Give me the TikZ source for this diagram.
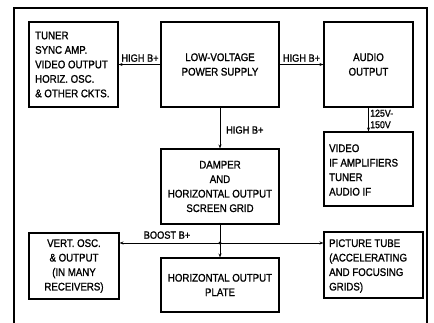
\documentclass[tikz,border=0pt]{standalone}
\usepackage{fontspec}
\setmainfont[FakeStretch=0.88,FakeBold=1.2]{Liberation Sans}
\usetikzlibrary{arrows.meta}
\begin{document}
\begin{tikzpicture}[x=1pt,y=-1pt,
  blk/.style={draw,line width=1.1pt,inner sep=0pt,font=\fontsize{11}{14.5}\selectfont},
  lbl/.style={font=\fontsize{10.5}{11}\selectfont,inner sep=0pt},
  conn/.style={line width=0.9pt},
  arr/.style={conn,-{Stealth[length=4pt,width=3pt]}}]
\useasboundingbox (0,0) rectangle (434,323);
\draw[line width=1.8pt] (14,340) -- (14,8) -- (427,8) -- (427,340);
\node[blk,minimum width=89pt,minimum height=85pt] (b1) at (73.5,64.5) {};
\node[font=\fontsize{11}{14.5}\selectfont,align=left,anchor=west,inner sep=0pt] (t1) at (35,64.5) {TUNER\\SYNC AMP.\\VIDEO OUTPUT\\HORIZ. OSC.\\\& OTHER CKTS.};
\node[blk,minimum width=118pt,minimum height=85pt,align=center] (b2) at (220,64.5) {LOW-VOLTAGE\\POWER SUPPLY};
\node[blk,minimum width=89pt,minimum height=85pt,align=center] (b3) at (368.5,64.5) {AUDIO\\OUTPUT};
\node[blk,minimum width=89pt,minimum height=74pt] (b4) at (368.5,169) {};
\node[font=\fontsize{11}{14.5}\selectfont,align=left,anchor=west,inner sep=0pt] (t4) at (329,170) {VIDEO\\IF AMPLIFIERS\\TUNER\\AUDIO IF};
\node[blk,minimum width=118pt,minimum height=75pt,align=center] (b5) at (220,186.5) {DAMPER\\AND\\HORIZONTAL OUTPUT\\SCREEN GRID};
\node[blk,minimum width=118pt,minimum height=54pt,align=center] (b6) at (220,285) {HORIZONTAL OUTPUT\\PLATE};
\node[blk,minimum width=90pt,minimum height=66pt,align=center] (b7) at (74,266) {VERT. OSC.\\\& OUTPUT\\(IN MANY\\RECEIVERS)};
\node[blk,minimum width=99pt,minimum height=66pt] (b8) at (373.5,265) {};
\node[font=\fontsize{11}{14.5}\selectfont,align=left,anchor=west,inner sep=0pt] (t8) at (329,266) {PICTURE TUBE\\(ACCELERATING\\AND FOCUSING\\GRIDS)};
\coordinate (j) at (220,243);
\draw[arr] (b2.west) -- (b1.east);
\draw[arr] (b2.east) -- (b3.west);
\draw[arr] (b2.south) -- (b5.north);
\draw[arr] (b3.south) -- (b4.north);
\draw[conn] (b5.south) -- (j);
\draw[arr] (j) -- (b6.north);
\draw[arr] (j) -- (j -| b7.east);
\draw[arr] (j) -- (j -| b8.west);
\fill (j) circle (1.6pt);
\node[lbl,anchor=south] (l1) at (140,62) {HIGH B+};
\node[lbl,anchor=south] (l2) at (301.5,62) {HIGH B+};
\node[lbl,anchor=west] (l3) at (226,130) {HIGH B+};
\node[lbl,anchor=west,align=left,font=\fontsize{10}{11.5}\selectfont] (l4) at (370,119) {125V-\\150V};
\node[lbl,anchor=south] (l5) at (167,239) {BOOST B+};
\end{tikzpicture}
\end{document}
